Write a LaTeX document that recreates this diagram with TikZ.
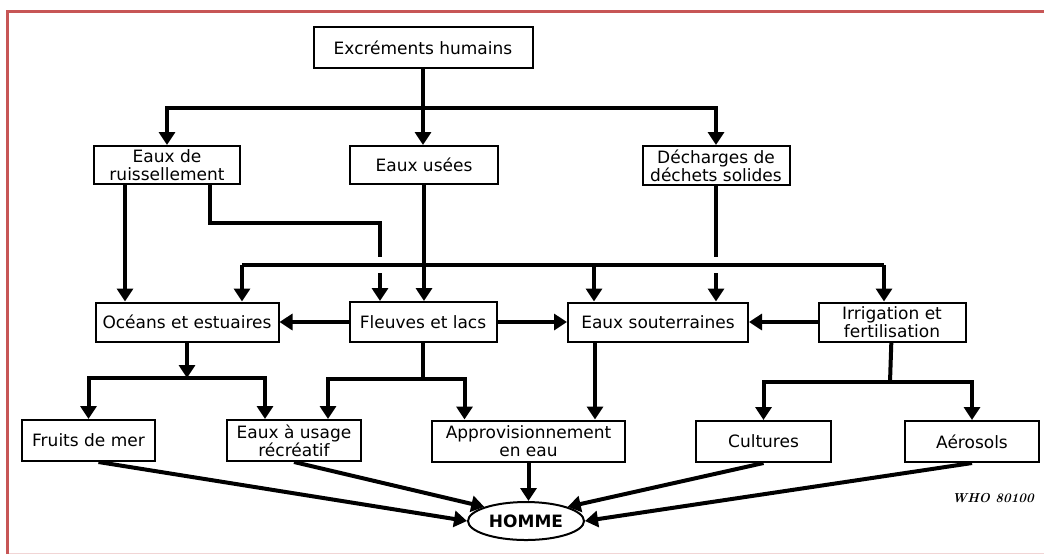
\documentclass[tikz,border=0pt]{standalone}
\usepackage{fontspec}
\setsansfont{DejaVu Sans}
\usetikzlibrary{arrows.meta, shapes.geometric}

\definecolor{framered}{RGB}{199,86,86}

\begin{document}
\begin{tikzpicture}[x=0.5pt, y=-0.5pt,
    box/.style={draw, line width=1pt, inner sep=0pt, align=center,
        font=\sffamily\fontsize{8.5}{9}\selectfont},
    link/.style={line width=2pt},
    arr/.style={link, -{Triangle[width=8pt,length=6.5pt]}}]

        % page size and the red frame
        \useasboundingbox (0,0) rectangle (1044,554);
        \draw[framered, line width=1.5pt] (7,554) -- (7,11) -- (1044,11);
        \draw[framered!25, line width=0.6pt] (9,553.5) -- (1044,553.5);

        % first row
        \node[box, minimum width=109.5pt, minimum height=20.5pt] (excr) at (423,47.5) {Excréments humains};
        \node[box, minimum width=73pt, minimum height=19pt] (ruis) at (167,165) {Eaux de\\ruissellement};
        \node[box, minimum width=74pt, minimum height=19pt] (usees) at (424,165) {Eaux usées};
        \node[box, minimum width=73.5pt, minimum height=19.5pt] (dech) at (716,165.5) {Décharges de\\déchets solides};

        % second row
        \node[box, minimum width=91.5pt, minimum height=19.5pt] (ocean) at (187,322) {Océans et estuaires};
        \node[box, minimum width=73.5pt, minimum height=20pt] (fleuves) at (423,322) {Fleuves et lacs};
        \node[box, minimum width=90pt, minimum height=19.5pt] (sout) at (658,322) {Eaux souterraines};
        \node[box, minimum width=73.5pt, minimum height=19.5pt] (irrig) at (892,322) {Irrigation et\\fertilisation};

        % third row
        \node[box, minimum width=66.5pt, minimum height=20.5pt] (fruits) at (88.5,440.5) {Fruits de mer};
        \node[box, minimum width=67pt, minimum height=20.5pt] (recre) at (294,440.5) {Eaux à usage\\récréatif};
        \node[box, minimum width=96.5pt, minimum height=20.5pt] (appro) at (528.5,441) {Approvisionnement\\en eau};
        \node[box, minimum width=67.5pt, minimum height=20.5pt] (cult) at (763.5,441.5) {Cultures};
        \node[box, minimum width=67pt, minimum height=20.5pt] (aero) at (972,441.5) {Aérosols};

        \node[box, ellipse, minimum width=58pt, minimum height=19pt, font=\sffamily\bfseries\fontsize{8.5}{9}\selectfont] (homme) at (526,521) {HOMME};
        \node[font=\fontsize{6.5}{7}\selectfont\bfseries\itshape] (who) at (993,498) {WHO 80100};

        % from the excreta
        \coordinate (top) at (423,108);
        \draw[link] (excr) -- (top);
        \draw[arr] (top) -| (ruis);
        \draw[arr] (top) -- (top |- usees.north);
        \draw[arr] (top) -| (dech);

        % lines that cross the bus
        \coordinate (rr) at (380,223);
        \draw[arr] ([xshift=-21pt]ruis.south) -- ([xshift=-21pt]ruis.south |- ocean.north);
        \draw[arr] ([xshift=21.5pt]ruis.south) |- (rr) -- (rr |- fleuves.north);
        \draw[arr] (dech) -- (dech |- sout.north);

        % the bus, with a gap where lines cross it
        \coordinate (busL) at (242,265);
        \coordinate (busM) at (594,265);
        \coordinate (busR) at (884,265);
        \draw[link, preaction={draw=white, line width=8pt}] (busL) -- (busR);
        \draw[arr] (busL) -- (busL |- ocean.north);
        \draw[arr] (busM) -- (busM |- sout.north);
        \draw[arr] (busR) -- (busR |- irrig.north);
        \draw[arr] (usees) -- (usees |- fleuves.north);

        % across the second row
        \draw[arr] (fleuves) -- (ocean);
        \draw[arr] (fleuves) -- (sout);
        \draw[arr] (irrig) -- (sout);

        % down to the third row
        \coordinate (ob) at (187,378);
        \draw[arr] (ocean) -- (ob);
        \draw[arr] (ob) -| (fruits);
        \draw[arr] (ob) -| ([xshift=-14.5pt]recre.north);

        \coordinate (fb) at (423,379);
        \draw[link] (fleuves) -- (fb);
        \draw[arr] (fb) -| ([xshift=17pt]recre.north);
        \draw[arr] (fb) -| ([xshift=-32pt]appro.north);

        \draw[arr] ([xshift=-31.5pt]sout.south) -- ([xshift=-31.5pt]sout.south |- appro.north);

        \coordinate (ib) at (890,382);
        \draw[link] (irrig) -- (ib);
        \draw[arr] (ib) -| (cult);
        \draw[arr] (ib) -| (aero);

        % everything ends at man
        \draw[arr] ([xshift=5pt]fruits.south) -- (homme.west);
        \draw[arr] (recre.south) -- (homme.north west);
        \draw[arr] (appro.south) -- (appro.south |- homme.north);
        \draw[arr] (cult.south) -- (homme.north east);
        \draw[arr] (aero.south) -- (homme.east);

\end{tikzpicture}
\end{document}
